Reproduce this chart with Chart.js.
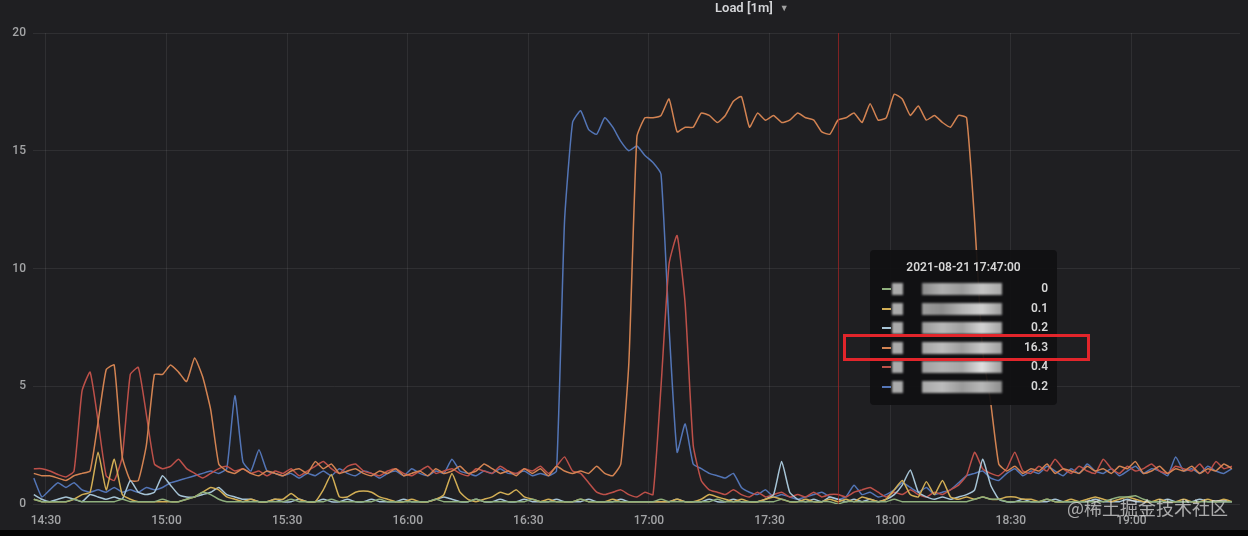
<!DOCTYPE html>
<html>
<head>
<meta charset="utf-8">
<script src="https://cdn.jsdelivr.net/npm/chart.js@4.4.1/dist/chart.umd.min.js"></script>
<style>
  html, body { margin: 0; padding: 0; background: #000; }
  #wrap { position: relative; width: 1248px; height: 536px; background: #050505; overflow: hidden; }
  #panel { position: absolute; left: 0; top: 0; width: 1248px; height: 530px; background: #1f1f22; }
  #chart { position: absolute; left: 0; top: 0; filter: blur(0.35px); }
  #title { position: absolute; left: 715px; top: 0px; font: 600 13px Roboto, "Open Sans", sans-serif; color: #d4d5d8; }
  #title span { font-size: 9px; color: #a0a0a0; margin-left: 7px; vertical-align: 1px; }
  #tip { position: absolute; left: 870px; top: 250px; width: 187px; height: 155px;
         background: rgba(16,16,18,0.93); border-radius: 4px; font: 600 12px Roboto, "Open Sans", sans-serif; color: #d6d6d6; }
  #tip .date { position: absolute; left: 0; width: 187px; top: 10px; text-align: center; }
  #tip .row { position: absolute; left: 0; width: 187px; height: 16px; }
  #tip .sw { position: absolute; left: 12px; top: 7px; width: 9px; height: 2px; }
  #tip .n1 { position: absolute; left: 22px; top: 2px; width: 11px; height: 12px; filter: blur(1px); }
  #tip .n2 { position: absolute; left: 52px; top: 2px; width: 80px; height: 12px; filter: blur(1.2px); }
  #tip .val { position: absolute; right: 9px; top: 0; }
  #mark { position: absolute; left: 843px; top: 334px; width: 247px; height: 27px; box-sizing: border-box;
          border: 3px solid #e2252b; }
  #wm { position: absolute; left: 1067px; top: 494px; font: 18px "Noto Sans CJK SC", sans-serif; color: rgba(225,225,225,0.72); }
</style>
</head>
<body>
<div id="wrap">
  <div id="panel"></div>
  <canvas id="chart" width="1248" height="530"></canvas>
  <div id="title">Load [1m]<span>▼</span></div>
  <div id="tip"></div>
  <div id="mark"></div>
  <div id="wm">@稀土掘金技术社区</div>
</div>
<script>
//  Load [1m] for six hosts, one sample every 2 minutes, minutes counted from 14:30
const START_MIN = -3;
const STEP_MIN = 2;
const tickMinutes = [0, 30, 60, 90, 120, 150, 180, 210, 240, 270];
const tickLabels = ['14:30', '15:00', '15:30', '16:00', '16:30', '17:00', '17:30', '18:00', '18:30', '19:00'];
const yTicks = [0, 5, 10, 15, 20];
const hoverIndex = 100;           // 17:47
const hoverLabel = '2021-08-21 17:47:00';

const green = [
  0.2,0.1,0.1,0.1,0.1,0.2,0.1,0.1,0.1,0.1,
  0.1,0.2,0.1,0.1,0.1,0.1,0.2,0.1,0.1,0.2,
  0.3,0.5,0.4,0.2,0.1,0.1,0.1,0.1,0.1,0.1,
  0.1,0.1,0.2,0.1,0.1,0.1,0.1,0.2,0.1,0.1,
  0.1,0.1,0.1,0.2,0.1,0.1,0.1,0.1,0.1,0.1,
  0.2,0.1,0.1,0.1,0.1,0.2,0.1,0.1,0.1,0.1,
  0.1,0.1,0.2,0.1,0.1,0.1,0.1,0.1,0.2,0.1,
  0.1,0.1,0.1,0.1,0.1,0.1,0.1,0.1,0.2,0.1,
  0.1,0.1,0.1,0.1,0.1,0.2,0.1,0.1,0.1,0.1,
  0.1,0.1,0.1,0.2,0.1,0.1,0.1,0.1,0.1,0.1,
  0,0.1,0.1,0.1,0.1,0.1,0.1,0.2,0.1,0.1,
  0.1,0.1,0.1,0.1,0.1,0.1,0.1,0.2,0.3,0.2,
  0.2,0.1,0.1,0.1,0.1,0.1,0.2,0.1,0.1,0.1,
  0.1,0.1,0.1,0.1,0.2,0.3,0.3,0.35,0.2,0.1,
  0.1,0.1,0.1,0.1,0.1,0.1,0.1,0.1,0.1,0.1
];
const yellow = [
  0.2,0.1,0.1,0.1,0.1,0.2,0.4,0.5,2.2,0.6,
  1.9,0.4,0.2,0.1,0.1,0.1,0.1,0.1,0.1,0.2,
  0.3,0.5,0.7,0.6,0.3,0.2,0.1,0.2,0.1,0.1,
  0.2,0.2,0.45,0.2,0.1,0.1,0.6,1.25,0.3,0.3,
  0.5,0.55,0.5,0.3,0.2,0.1,0.1,0.2,0.1,0.1,
  0.2,0.4,1.3,0.5,0.2,0.1,0.2,0.3,0.5,0.4,
  0.6,0.3,0.2,0.1,0.2,0.1,0.1,0.1,0.2,0.1,
  0.1,0.1,0.2,0.1,0.1,0.1,0.1,0.1,0.1,0.1,
  0.2,0.1,0.1,0.2,0.4,0.3,0.2,0.1,0.2,0.1,
  0.1,0.2,0.3,0.2,0.1,0.1,0.2,0.1,0.1,0.2,
  0.1,0.2,0.1,0.3,0.2,0.1,0.2,0.6,1.0,0.4,
  0.3,0.95,0.4,1.0,0.3,0.2,0.3,0.2,0.3,0.2,
  0.2,0.3,0.3,0.2,0.2,0.1,0.2,0.1,0.1,0.2,
  0.1,0.2,0.3,0.2,0.1,0.2,0.3,0.2,0.1,0.1,
  0.2,0.1,0.1,0.2,0.1,0.1,0.2,0.1,0.2,0.1
];
const lightBlue = [
  0.4,0.2,0.1,0.2,0.3,0.2,0.1,0.4,0.3,0.2,
  0.3,0.2,1.0,0.5,0.4,0.5,1.2,0.8,0.4,0.3,
  0.3,0.4,0.5,0.7,0.4,0.3,0.2,0.2,0.1,0.1,
  0.2,0.1,0.1,0.2,0.1,0.1,0.2,0.1,0.1,0.2,
  0.1,0.1,0.2,0.1,0.1,0.1,0.2,0.1,0.1,0.1,
  0.2,0.3,0.2,0.1,0.1,0.2,0.1,0.1,0.2,0.1,
  0.1,0.2,0.1,0.1,0.1,0.2,0.1,0.1,0.1,0.2,
  0.1,0.1,0.1,0.2,0.1,0.1,0.1,0.1,0.1,0.1,
  0.2,0.1,0.1,0.1,0.2,0.1,0.1,0.2,0.1,0.1,
  0.1,0.2,0.4,1.8,0.5,0.2,0.1,0.2,0.1,0.3,
  0.2,0.1,0.2,0.1,0.2,0.1,0.2,0.4,0.8,1.45,
  0.5,0.3,0.2,0.3,0.2,0.3,0.4,0.6,1.9,0.8,
  0.2,0.1,0.1,0.2,0.1,0.1,0.1,0.2,0.1,0.1,
  0.1,0.1,0.2,0.1,0.1,0.1,0.2,0.1,0.1,0.1,
  0.1,0.2,0.1,0.1,0.1,0.2,0.1,0.1,0.1,0.1
];
const orange = [
  1.3,1.2,1.2,1.1,1.0,1.2,1.3,1.4,3.5,5.7,
  5.9,2.0,1.0,1.0,2.5,5.5,5.5,5.9,5.6,5.2,
  6.2,5.4,4.0,1.7,1.4,1.3,1.5,1.3,1.2,1.4,
  1.3,1.2,1.4,1.5,1.3,1.8,1.5,1.7,1.3,1.4,
  1.5,1.3,1.2,1.4,1.3,1.5,1.2,1.3,1.4,1.2,
  1.5,1.3,1.4,1.6,1.3,1.4,1.7,1.5,1.3,1.4,
  1.2,1.5,1.3,1.5,1.2,1.6,1.4,1.3,1.4,1.3,
  1.6,1.3,1.2,1.7,6.0,15.6,16.4,16.4,16.5,17.2,
  15.8,16.0,16.0,16.6,16.5,16.2,16.5,17.1,17.3,16.0,
  16.6,16.3,16.5,16.2,16.3,16.6,16.4,16.3,15.8,15.7,
  16.3,16.4,16.6,16.2,17.0,16.3,16.4,17.4,17.2,16.5,
  16.9,16.3,16.5,16.2,16.0,16.5,16.4,12.0,6.5,4.3,
  1.7,1.4,1.6,1.3,1.5,1.4,1.7,1.3,1.5,1.4,
  1.3,1.6,1.4,1.5,1.3,1.6,1.5,1.8,1.3,1.4,
  1.6,1.3,1.5,1.4,1.6,1.3,1.5,1.4,1.7,1.5
];
const red = [
  1.5,1.5,1.4,1.25,1.15,1.4,4.8,5.6,3.5,1.2,
  1.0,2.0,5.5,5.8,3.8,1.7,1.5,1.6,1.9,1.5,
  1.3,1.1,1.3,1.5,1.6,1.4,1.5,1.3,1.4,1.2,
  1.4,1.3,1.5,1.2,1.4,1.6,1.8,1.5,1.3,1.6,
  1.7,1.4,1.3,1.2,1.4,1.5,1.3,1.2,1.4,1.6,
  1.3,1.4,1.5,1.3,1.2,1.5,1.4,1.3,1.6,1.4,
  1.3,1.5,1.4,1.6,1.3,1.6,2.0,1.4,1.3,0.9,
  0.5,0.4,0.5,0.6,0.4,0.3,0.5,0.4,5.0,10.2,
  11.4,8.5,2.5,1.0,0.6,0.5,0.4,0.6,0.4,0.3,
  0.5,0.3,0.4,0.5,0.3,0.4,0.3,0.5,0.3,0.4,
  0.4,0.3,0.5,0.6,0.7,0.5,0.3,0.5,0.4,0.6,
  0.4,0.3,0.5,0.4,0.6,0.8,1.2,2.2,1.5,1.3,
  1.2,1.5,2.2,1.4,1.3,1.6,1.4,1.9,1.5,1.3,
  1.6,1.4,1.3,1.9,1.5,1.3,1.6,1.4,1.5,1.7,
  1.4,1.3,1.6,1.5,1.4,1.7,1.3,1.8,1.5,1.6
];
const blue = [
  1.1,0.3,0.6,0.9,0.7,0.9,0.6,0.5,0.6,0.5,
  0.7,0.5,0.6,0.5,0.7,0.6,0.7,0.9,1.0,1.1,
  1.2,1.3,1.4,1.3,1.5,4.6,1.8,1.4,2.3,1.4,
  1.3,1.2,1.3,1.1,1.3,1.2,1.4,1.2,1.5,1.3,
  1.2,1.4,1.3,1.1,1.3,1.4,1.2,1.5,1.3,1.2,
  1.4,1.3,1.9,1.4,1.3,1.2,1.4,1.3,1.5,1.3,
  1.3,1.4,1.2,1.3,1.2,1.4,12.0,16.2,16.7,15.9,
  15.7,16.4,16.0,15.4,15.0,15.2,14.8,14.5,14.0,7.5,
  2.2,3.4,1.7,1.5,1.3,1.2,1.1,1.3,0.7,0.5,
  0.4,0.6,0.3,0.4,0.3,0.2,0.3,0.4,0.5,0.3,
  0.2,0.3,0.8,0.4,0.5,0.3,0.4,0.6,0.9,0.7,
  0.5,0.7,0.4,0.5,0.6,0.9,1.2,1.3,1.4,1.1,
  1.0,1.3,1.5,1.2,1.4,1.3,1.6,1.4,1.2,1.5,
  1.3,1.7,1.4,1.3,1.5,1.2,1.4,1.6,1.3,1.5,
  1.4,1.2,2.0,1.4,1.5,1.3,1.6,1.4,1.3,1.5
];

const allSeries = [green, yellow, lightBlue, orange, red, blue];
const lineColors = ['#8fb07e', '#d2ae55', '#a6c4d6', '#d38352', '#bd5049', '#5375b6'];

function toPoints(values) {
  return values.map((v, i) => ({ x: START_MIN + i * STEP_MIN, y: v }));
}

//  red hover line at the tooltip time
const crosshair = {
  id: 'crosshair',
  afterDatasetsDraw(chart) {
    const x = chart.scales.x.getPixelForValue(START_MIN + hoverIndex * STEP_MIN);
    const ctx = chart.ctx;
    ctx.save();
    ctx.strokeStyle = 'rgba(170,35,35,0.7)';
    ctx.lineWidth = 1;
    ctx.beginPath();
    ctx.moveTo(Math.round(x) + 0.5, chart.chartArea.top);
    ctx.lineTo(Math.round(x) + 0.5, chart.chartArea.bottom);
    ctx.stroke();
    ctx.restore();
  }
};

const tickFont = { family: 'Roboto, "Open Sans", sans-serif', size: 12, weight: '500' };

new Chart(document.getElementById('chart'), {
  type: 'line',
  data: {
    datasets: allSeries.map((vals, k) => ({
      data: toPoints(vals),
      borderColor: lineColors[k],
      borderWidth: 1.5,
      pointRadius: 0,
      tension: 0.15,
      fill: false
    }))
  },
  options: {
    responsive: false,
    animation: false,
    layout: { padding: { top: 33, right: 8, left: 0, bottom: 0 } },
    plugins: { legend: { display: false }, tooltip: { enabled: false } },
    scales: {
      x: {
        type: 'linear',
        min: -3.2,
        max: 297,
        afterBuildTicks: s => { s.ticks = tickMinutes.map(v => ({ value: v })); },
        afterFit: s => { s.height = 26; },
        ticks: {
          autoSkip: false, maxRotation: 0, padding: 10, color: '#a3a4a6', font: tickFont,
          callback: v => tickLabels[tickMinutes.indexOf(v)]
        },
        grid: { color: 'rgba(255,255,255,0.075)', drawTicks: false },
        border: { display: false }
      },
      y: {
        min: 0,
        max: 20,
        afterBuildTicks: s => { s.ticks = yTicks.map(v => ({ value: v })); },
        afterFit: s => { s.width = 33; },
        ticks: { padding: 7, color: '#a3a4a6', font: tickFont },
        grid: { color: 'rgba(255,255,255,0.075)', drawTicks: false },
        border: { display: false }
      }
    }
  },
  plugins: [crosshair]
});

//  Grafana style hover box, host names are blurred in the source
const blurShades = [
  ['#8a8a8a', '#b0b0b0', '#9a9a9a', '#c4c4c4', '#a8a8a8'],
  ['#9c9c9c', '#8c8c8c', '#b4b4b4', '#cfcfcf', '#9a9a9a'],
  ['#999', '#b8b8b8', '#a0a0a0', '#d4d4d4', '#a4a4a4'],
  ['#a4a4a4', '#bcbcbc', '#9e9e9e', '#c8c8c8', '#a0a0a0'],
  ['#a0a0a0', '#b2b2b2', '#a6a6a6', '#e0e0e0', '#9c9c9c'],
  ['#a8a8a8', '#bcbcbc', '#9a9a9a', '#b8b8b8', '#8c8c8c']
];
const tip = document.getElementById('tip');
let html = '<div class="date">' + hoverLabel + '</div>';
allSeries.forEach((vals, k) => {
  const g = 'linear-gradient(90deg,' + blurShades[k].join(',') + ')';
  html += '<div class="row" style="top:' + (31 + k * 19.5) + 'px">' +
          '<div class="sw" style="background:' + lineColors[k] + '"></div>' +
          '<div class="n1" style="background:#aaa"></div>' +
          '<div class="n2" style="background:' + g + '"></div>' +
          '<div class="val">' + vals[hoverIndex] + '</div></div>';
});
tip.innerHTML = html;
</script>
</body>
</html>
